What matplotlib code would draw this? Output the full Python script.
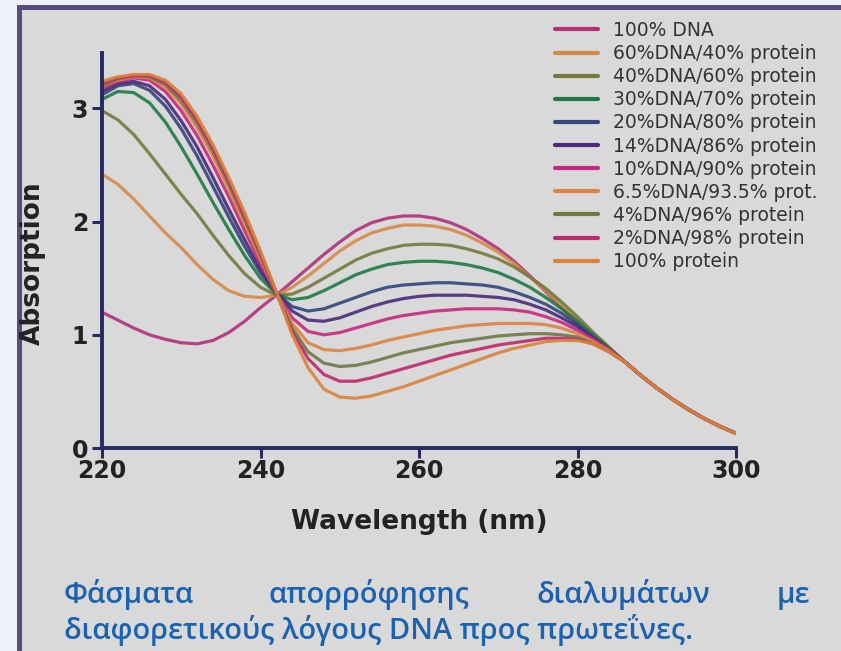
import numpy as np
import matplotlib
matplotlib.use('Agg')
import matplotlib.pyplot as plt
from matplotlib.patches import Rectangle

# wavelengths (nm)
wl = [220, 222, 224, 226, 228, 230, 232, 234, 236, 238, 240, 242, 244, 246, 248, 250,
      252, 254, 256, 258, 260, 262, 264, 266, 268, 270, 272, 274, 276, 278, 280, 282,
      284, 286, 288, 290, 292, 294, 296, 298, 300]

tail = [0.76, 0.64, 0.53, 0.43, 0.34, 0.26, 0.19, 0.13]

dna100 = [1.20, 1.13, 1.06, 1.00, 0.96, 0.93, 0.92, 0.95, 1.02, 1.12, 1.24, 1.35, 1.47, 1.59, 1.71, 1.82,
          1.92, 1.99, 2.03, 2.05, 2.05, 2.03, 1.99, 1.93, 1.85, 1.76, 1.65, 1.52, 1.38, 1.24, 1.10, 0.98,
          0.87] + tail
dna60 = [2.42, 2.33, 2.20, 2.05, 1.90, 1.77, 1.62, 1.49, 1.39, 1.34, 1.33, 1.35, 1.42, 1.52, 1.63, 1.74,
         1.83, 1.90, 1.94, 1.97, 1.97, 1.96, 1.93, 1.88, 1.81, 1.73, 1.63, 1.51, 1.39, 1.26, 1.13, 1.00,
         0.88] + tail
dna40 = [2.98, 2.90, 2.77, 2.60, 2.42, 2.24, 2.07, 1.88, 1.70, 1.54, 1.42, 1.35, 1.36, 1.42, 1.50, 1.58,
         1.66, 1.72, 1.76, 1.79, 1.80, 1.80, 1.79, 1.76, 1.72, 1.67, 1.60, 1.51, 1.41, 1.29, 1.16, 1.02,
         0.89] + tail
dna30 = [3.08, 3.15, 3.14, 3.05, 2.88, 2.66, 2.42, 2.17, 1.93, 1.70, 1.50, 1.36, 1.31, 1.33, 1.39, 1.46,
         1.53, 1.58, 1.62, 1.64, 1.65, 1.65, 1.64, 1.62, 1.59, 1.55, 1.49, 1.42, 1.33, 1.23, 1.12, 1.00,
         0.88] + tail
dna20 = [3.12, 3.20, 3.22, 3.16, 3.02, 2.82, 2.58, 2.31, 2.04, 1.78, 1.55, 1.37, 1.25, 1.21, 1.23, 1.28,
         1.33, 1.38, 1.42, 1.44, 1.45, 1.46, 1.46, 1.45, 1.44, 1.42, 1.38, 1.33, 1.27, 1.19, 1.09, 0.98,
         0.87] + tail
dna14 = [3.15, 3.22, 3.24, 3.20, 3.08, 2.89, 2.66, 2.39, 2.11, 1.84, 1.58, 1.37, 1.21, 1.13, 1.12, 1.15,
         1.20, 1.25, 1.29, 1.32, 1.34, 1.35, 1.35, 1.35, 1.34, 1.33, 1.31, 1.27, 1.22, 1.15, 1.07, 0.97,
         0.87] + tail
dna10 = [3.18, 3.24, 3.27, 3.25, 3.15, 2.98, 2.76, 2.50, 2.22, 1.92, 1.63, 1.37, 1.15, 1.03, 1.00, 1.02,
         1.06, 1.10, 1.14, 1.17, 1.19, 1.21, 1.22, 1.23, 1.23, 1.23, 1.22, 1.20, 1.16, 1.11, 1.04, 0.96,
         0.87] + tail
dna6 = [3.20, 3.25, 3.28, 3.27, 3.19, 3.04, 2.83, 2.58, 2.29, 1.98, 1.67, 1.37, 1.10, 0.93, 0.87, 0.86,
        0.88, 0.91, 0.95, 0.98, 1.01, 1.04, 1.06, 1.08, 1.09, 1.10, 1.10, 1.10, 1.09, 1.06, 1.01, 0.94,
        0.86] + tail
dna4 = [3.20, 3.26, 3.29, 3.28, 3.21, 3.07, 2.87, 2.62, 2.33, 2.02, 1.70, 1.37, 1.06, 0.85, 0.75, 0.72,
        0.73, 0.76, 0.80, 0.84, 0.87, 0.90, 0.93, 0.95, 0.97, 0.99, 1.00, 1.01, 1.01, 1.00, 0.98, 0.92,
        0.85] + tail
dna2 = [3.22, 3.27, 3.29, 3.29, 3.23, 3.10, 2.90, 2.65, 2.36, 2.05, 1.72, 1.37, 1.03, 0.79, 0.65, 0.59,
        0.59, 0.62, 0.66, 0.70, 0.74, 0.78, 0.82, 0.85, 0.88, 0.91, 0.93, 0.95, 0.97, 0.97, 0.96, 0.92,
        0.85] + tail
protein = [3.24, 3.28, 3.30, 3.30, 3.25, 3.13, 2.93, 2.68, 2.39, 2.08, 1.74, 1.38, 1.00, 0.71, 0.52, 0.45,
           0.44, 0.46, 0.50, 0.54, 0.59, 0.64, 0.69, 0.74, 0.79, 0.84, 0.88, 0.91, 0.94, 0.95, 0.95, 0.92,
           0.85] + tail

series = [dna100, dna60, dna40, dna30, dna20, dna14, dna10, dna6, dna4, dna2, protein]
labels = ['100% DNA', '60%DNA/40% protein', '40%DNA/60% protein', '30%DNA/70% protein',
          '20%DNA/80% protein', '14%DNA/86% protein', '10%DNA/90% protein',
          '6.5%DNA/93.5% prot.', '4%DNA/96% protein', '2%DNA/98% protein', '100% protein']
colors = ['#b0307a', '#d68a48', '#76793e', '#1e7a45', '#34447c', '#4a2a7a', '#c8287e',
          '#dc8444', '#6e7a45', '#c0286e', '#d8843a']

W, H = 841, 651
fig = plt.figure(figsize=(W / 100, H / 100), dpi=100)
fig.patch.set_facecolor('#edf1f9')

# purple framed grey panel
frame = Rectangle((18.5 / W, -0.1), 1.2, 1.1 - 7.5 / H, transform=fig.transFigure,
                  facecolor='#d9d9d9', edgecolor='#5a4a7e', linewidth=3.6, zorder=0)
fig.add_artist(frame)

ax = fig.add_axes([102 / W, (651 - 448) / H, (736 - 102) / W, (448 - 53) / H])
ax.set_facecolor('none')

for y, lab, col in zip(series, labels, colors):
    ax.plot(wl, y, color=col, lw=2.3, label=lab, alpha=0.9, solid_capstyle='round')

ax.set_xlim(220, 300)
ax.set_ylim(0, 3.49)
ax.set_xticks([220, 240, 260, 280, 300])
ax.set_yticks([0, 1, 2, 3])
for s in ['top', 'right']:
    ax.spines[s].set_visible(False)
for s in ['left', 'bottom']:
    ax.spines[s].set_color('#262a60')
    ax.spines[s].set_linewidth(2.8)
ax.tick_params(direction='out', length=7, width=2.2, color='#262a60',
               labelsize=17, labelcolor='#222222')
ax.tick_params(axis='x', pad=1)
ax.tick_params(axis='y', pad=3)
for t in ax.get_xticklabels() + ax.get_yticklabels():
    t.set_fontweight('bold')

ax.set_xlabel('Wavelength (nm)', fontsize=19, fontweight='bold', color='#222222', va='center')
ax.xaxis.set_label_coords(0.5, (448 - 522) / 395)
ax.set_ylabel('Absorption', fontsize=19, fontweight='bold', color='#222222', va='center')
ax.yaxis.set_label_coords((33 - 102) / 634, (448 - 263) / 395)

leg = ax.legend(loc='upper left', bbox_to_anchor=(555 / W, 1 - 21 / H),
                bbox_transform=fig.transFigure, frameon=False, fontsize=13.5,
                handlelength=2.29, handletextpad=0.8, labelspacing=0.22,
                borderpad=0, borderaxespad=0)
for line in leg.get_lines():
    line.set_linewidth(3)
    line.set_alpha(1)
for t in leg.get_texts():
    t.set_color('#333333')

# caption in two lines, first one justified
cap_kw = dict(color='#1b62b0', family='Open Sans', fontweight='semibold', va='baseline')
line2 = fig.text(64 / W, 1 - 639 / H, 'διαφορετικούς λόγους DNA προς πρωτεΐνες.', fontsize=20, **cap_kw)
fig.canvas.draw()
wid = line2.get_window_extent().width
fs = 20 * 628 / wid
line2.set_fontsize(fs)
words = ['Φάσματα', 'απορρόφησης', 'διαλυμάτων', 'με']
lefts = [64, 268, 536]
for w, x in zip(words[:3], lefts):
    fig.text(x / W, 1 - 603 / H, w, fontsize=fs, ha='left', **cap_kw)
fig.text(810 / W, 1 - 603 / H, words[3], fontsize=fs, ha='right', **cap_kw)

fig.savefig('out.png', dpi=100, facecolor=fig.get_facecolor())
